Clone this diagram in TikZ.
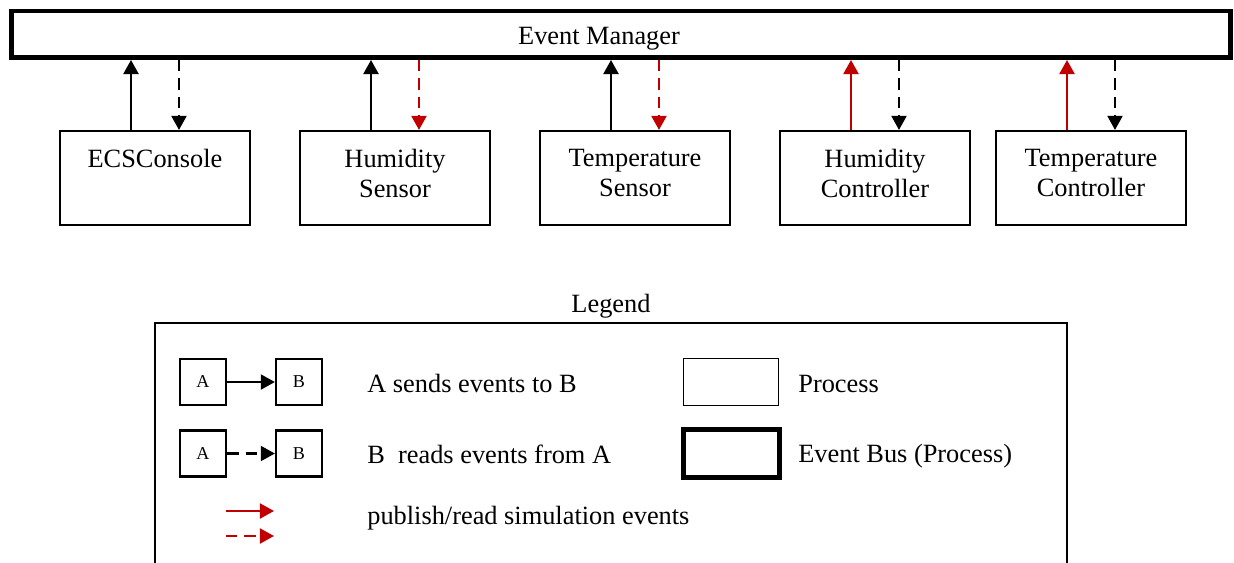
\documentclass[tikz,border=0pt]{standalone}
\usepackage{fontspec}
\setmainfont{Liberation Serif}
\usetikzlibrary{arrows.meta, % for triangle tips
                calc,
                positioning}
\definecolor{simred}{RGB}{192,0,0}

\begin{document}
\begin{tikzpicture}[x=0.02cm, y=-0.02cm,
                    every node/.style={font=\fontsize{15}{17}\selectfont, inner sep=0pt},
                    Process/.style={draw, line width=1.2pt, minimum width=3.8cm, minimum height=1.88cm},
                    Bus/.style={draw, line width=2.8pt, minimum width=24.4cm, minimum height=0.93cm},
                    Mini/.style={draw, line width=1.3pt, minimum size=0.92cm, font=\fontsize{10.3}{12}\selectfont},
                    Caption/.style={anchor=north, align=center, yshift=-0.38cm},
                    evtip/.style={-{Triangle[length=8pt, width=8.5pt]}},
                    sends/.style={evtip, line width=1.3pt},
                    reads/.style={sends, dash pattern=on 6.5pt off 4pt},
                    simsend/.style={sends, simred},
                    simread/.style={reads, simred}
                    ]
    \useasboundingbox (0,0) rectangle (1234,562);

    % EVENT BUS %
    \node[Bus] (bus) at (621,34.25) {};
    \node[anchor=base] (busname) at (599,44) {Event Manager};

    % PROCESSES %
    \foreach \n/\x/\txt in {ecs/155/ECSConsole,
                            hsens/395/Humidity\\Sensor,
                            tsens/635/Temperature\\Sensor,
                            hctrl/875/Humidity\\Controller,
                            tctrl/1091/Temperature\\Controller}
    \node[Process, label={[Caption, name=\n-txt]north:\txt}] (\n) at (\x,178) {};

    \foreach \n/\up/\down in {ecs/sends/reads, hsens/sends/simread, tsens/sends/simread,
                              hctrl/simsend/reads, tctrl/simsend/reads}{
    \draw[\up] ([xshift=-0.48cm]\n.north) -- ([xshift=-0.48cm]\n.north |- bus.south);
    \draw[\down] ([xshift=0.48cm]\n.north |- bus.south) -- ([xshift=0.48cm]\n.north);
    }

    % LEGEND %
    \node[anchor=base] (legtitle) at (611,312) {Legend};
    \draw[line width=1.2pt] (155,580) |- (1067,323) -- (1067,580);

    \foreach \r/\y in {1/382, 2/453.5}{
    \node[Mini] (A\r) at (203,\y) {A};
    \node[Mini] (B\r) at (299,\y) {B};
    }
    \draw[sends] (A1) -- (B1);
    \draw[reads] (A2) -- (B2);

    \coordinate (simA) at (226,511);
    \coordinate (simB) at (274,511);
    \coordinate (simC) at (226,536);
    \coordinate (simD) at (274,536);
    \draw[simsend] (simA) -- (simB);
    \draw[simread] (simC) -- (simD);

    \node[draw, line width=0.7pt, minimum width=1.9cm, minimum height=0.94cm] (legproc) at (731,382) {};
    \node[draw, line width=2.8pt, minimum width=1.92cm, minimum height=0.96cm] (legbus) at (731.5,453.5) {};

    \node[anchor=base west] (txtsend) at (367,392) {A sends events to B};
    \node[anchor=base west] (txtread) at (367,463) {B\ \ reads events from A};
    \node[anchor=base west] (txtsim) at (367,524) {publish/read simulation events};
    \node[anchor=base west] (txtproc) at (798,392) {Process};
    \node[anchor=base west] (txtbus) at (798,462) {Event Bus (Process)};

\end{tikzpicture}
\end{document}
